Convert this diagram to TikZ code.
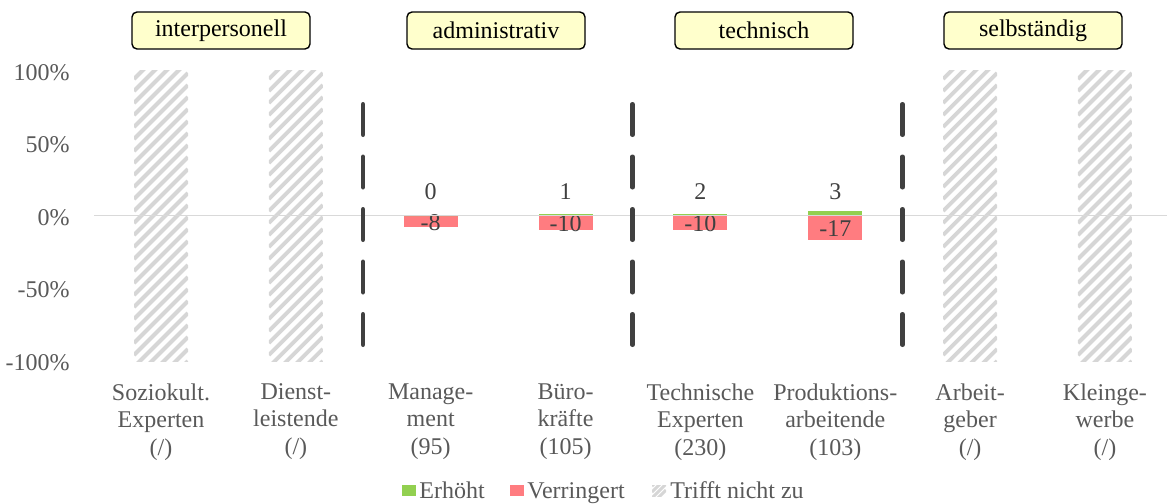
\documentclass[tikz,border=0pt]{standalone}
\usepackage{fontspec}
\setmainfont{Liberation Serif}
\definecolor{barGreen}{RGB}{146, 208, 80}
\definecolor{barRed}{RGB}{255, 124, 128}
\definecolor{hatchGray}{RGB}{214, 214, 214}
\definecolor{axisGray}{RGB}{217, 217, 217}
\definecolor{textGray}{RGB}{89, 89, 89}
\definecolor{darkGray}{RGB}{64, 64, 64}
\definecolor{boxYellow}{RGB}{255, 255, 204}
\usepackage{tikz}

\tikzset{
  every node/.style={font=\fontsize{12}{13.75}\selectfont},
  groupbox/.style={draw=black,line width=0.7pt,rounded corners=2.5pt,fill=boxYellow,minimum width=89pt,minimum height=18.5pt,inner sep=0pt},
  ticklabel/.style={anchor=east,inner sep=0pt,text=textGray},
  catlabel/.style={anchor=north,align=center,inner sep=0pt,text=textGray},
  valuelabel/.style={inner sep=0pt,text=darkGray},
  legendtext/.style={anchor=base west,inner sep=0pt,text=textGray},
  separator/.style={draw=darkGray,line width=2.25pt,line cap=round,dash pattern=on 15.25pt off 11pt},
  hatchline/.style={draw=hatchGray,line width=2pt}
}

\begin{document}
\begin{tikzpicture}[x=0.5pt,y=-0.5pt]
      \useasboundingbox (0,0) rectangle (1169,504);

      % Group boxes
      \node[groupbox] (grpInter) at (221,30.5) {interpersonell};
      \node[groupbox] (grpAdmin) at (496,30.5) {administrativ};
      \node[groupbox] (grpTech) at (764,30.5) {technisch};
      \node[groupbox] (grpSelf) at (1033,30.5) {selbständig};

      % Y axis labels
      \foreach \v/\t/\nm in {100/100\%/tickA,50/50\%/tickB,0/0\%/tickC,-50/-50\%/tickD,-100/-100\%/tickE}
        \node[ticklabel] (\nm) at (70,{217.5-1.45*\v}) {\t};

      % Hatched bars (not applicable)
      \foreach \cx in {161,295.85,970.1,1104.95}{
        \begin{scope}
          \clip (\cx-27,70) rectangle (\cx+27,361);
          \foreach \k in {0,...,29}
            \draw[hatchline] (\cx-27,415-12*\k) -- ++(54,-54);
        \end{scope}
      }

      % Increased / decreased bars
      \foreach \cx/\up/\down/\nup/\ndown/\nm in {430.7/0/8/0/-8/Mgmt,565.55/0.95/10/1/-10/Buero,700.4/0.87/10/2/-10/Tech,835.25/2.9/17/3/-17/Prod}{
        \fill[barRed] (\cx-27,215.5) rectangle (\cx+27,{215.5+1.45*\down});
        \fill[barGreen] (\cx-27,215.5) rectangle (\cx+27,{215.5-1.45*\up});
        \node[valuelabel] (up\nm) at (\cx,192) {\nup};
        \node[valuelabel] (down\nm) at (\cx,{216.5+0.725*\down}) {\ndown};
      }

      % Zero line
      \draw[axisGray,line width=0.75pt] (94,215.5) -- (1167,215.5);

      % Group separators
      \foreach \sx in {363,632.5,902.5}
        \draw[separator] (\sx,104.25) -- (\sx,345.75);

      % Category labels
      \node[catlabel] (catSozio) at (161,383) {Soziokult.\\Experten\\(/)};
      \node[catlabel] (catDienst) at (295.85,383) {Dienst-\\leistende\\(/)};
      \node[catlabel] (catMgmt) at (430.7,383) {Manage-\\ment\\(95)};
      \node[catlabel] (catBuero) at (565.55,383) {Büro-\\kräfte\\(105)};
      \node[catlabel] (catTech) at (700.4,383) {Technische\\Experten\\(230)};
      \node[catlabel] (catProd) at (835.25,383) {Produktions-\\arbeitende\\(103)};
      \node[catlabel] (catArbeit) at (970.1,383) {Arbeit-\\geber\\(/)};
      \node[catlabel] (catKlein) at (1104.95,383) {Kleinge-\\werbe\\(/)};

      % Legend
      \fill[barGreen] (402,485) rectangle (416,496);
      \node[legendtext] (legUp) at (419,498) {Erhöht};
      \fill[barRed] (510,485) rectangle (524,496);
      \node[legendtext] (legDown) at (527,498) {Verringert};
      \begin{scope}
        \clip (652,485) rectangle (666,496);
        \foreach \k in {0,...,4}
          \draw[hatchline,line width=1.5pt] (652,504-6*\k) -- ++(14,-14);
      \end{scope}
      \node[legendtext] (legNone) at (670,498) {Trifft nicht zu};
    \end{tikzpicture}
\end{document}
